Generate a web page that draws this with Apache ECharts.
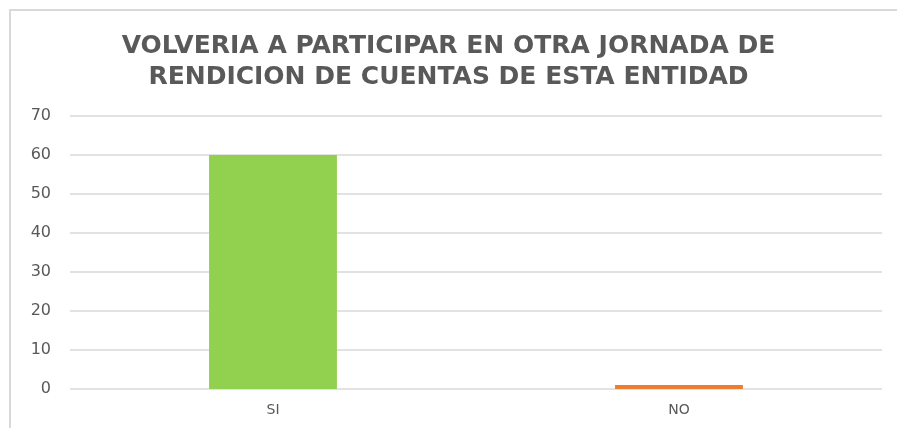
<!DOCTYPE html>
<html>
<head>
<meta charset="utf-8">
<script src="https://cdn.jsdelivr.net/npm/echarts@6/dist/echarts.min.js"></script>
<style>
  html, body { margin: 0; padding: 0; background: #fff; overflow: hidden; }
  #chart { width: 897px; height: 428px; }
</style>
</head>
<body>
<div id="chart"></div>
<script>
// datos del gráfico
const categorias = ['SI', 'NO'];
const valores = [60, 1];
const colores = ['#92D050', '#ED7D31'];

const chart = echarts.init(document.getElementById('chart'));

const option = {
    backgroundColor: '#fff',
    title: {
        text: 'VOLVERIA A PARTICIPAR EN OTRA JORNADA DE\nRENDICION DE CUENTAS DE ESTA ENTIDAD',
        left: 'center',
        top: 26,
        textStyle: {
            fontFamily: 'DejaVu Sans',
            fontWeight: 'bold',
            fontSize: 25,
            lineHeight: 31,
            color: '#595959'
        }
    },
    // marco del gráfico (solo se ve arriba y a la izquierda)
    graphic: [
        {
            type: 'polyline',
            shape: { points: [[10, 1000], [10, 10], [1000, 10]] },
            style: { fill: 'none', stroke: '#d9d9d9', lineWidth: 2 },
            silent: true
        }
    ],
    grid: {
        left: 70,
        right: 15,
        top: 116,
        bottom: 39,
        containLabel: false
    },
    xAxis: {
        type: 'category',
        data: categorias,
        axisLine: { show: false },
        axisTick: { show: false },
        axisLabel: {
            margin: 14,
            fontFamily: 'DejaVu Sans',
            fontSize: 14,
            color: '#595959'
        }
    },
    yAxis: {
        type: 'value',
        min: 0,
        max: 70,
        interval: 10,
        axisLine: { show: false },
        axisTick: { show: false },
        axisLabel: {
            margin: 19,
            fontFamily: 'DejaVu Sans',
            fontSize: 16,
            color: '#595959'
        },
        splitLine: { lineStyle: { color: '#d9d9d9', width: 1.5 } }
    },
    series: [
        {
            type: 'bar',
            barWidth: '31.5%',
            data: valores.map(function (v, i) {
                return { value: v, itemStyle: { color: colores[i] } };
            })
        }
    ]
};

chart.setOption(option);
</script>
</body>
</html>
